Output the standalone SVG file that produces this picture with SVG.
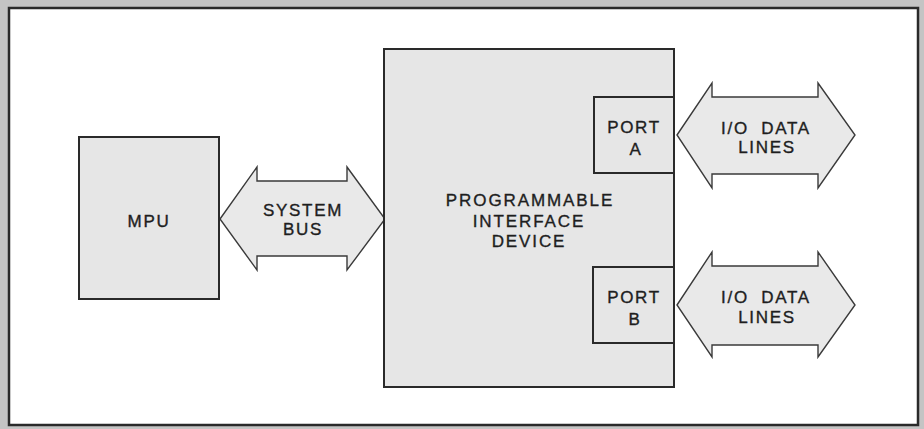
<svg xmlns="http://www.w3.org/2000/svg" width="924" height="429" viewBox="0 0 924 429">
<style>
.box{fill:#e6e6e6;stroke:#2a2a2a;stroke-width:2}
.bus{fill:#e9e9e9;stroke:#3a3a3a;stroke-width:1.4;stroke-linejoin:miter}
.t{font-family:"Liberation Sans",Arial,sans-serif;font-size:17px;fill:#1e1e1e;stroke:#1e1e1e;stroke-width:0.35px;text-anchor:middle;letter-spacing:1.7px}
.w{word-spacing:6px}
</style>
<rect x="0" y="0" width="924" height="429" fill="#c4c4c4"/>
<rect x="9" y="8" width="909" height="417" fill="#ffffff" stroke="#2a2a2a" stroke-width="2.5"/>
<g id="connectors">
  <g id="system-bus">
    <polygon class="bus" points="220,219 257,167 257,181 347,181 347,167 385,219 347,270 347,256 257,256 257,270"/>
    <text class="t" x="303" y="216">SYSTEM</text>
    <text class="t" x="303" y="235">BUS</text>
  </g>
  <g id="io-lines-a">
    <polygon class="bus" points="677,135 712,83 712,97 818,97 818,83 855,135 818,188 818,174 712,174 712,188"/>
    <text class="t w" x="766" y="134">I/O DATA</text>
    <text class="t" x="767" y="153">LINES</text>
  </g>
  <g id="io-lines-b">
    <polygon class="bus" points="677,305 712,252 712,266 818,266 818,252 855,305 818,357 818,345 712,345 712,357"/>
    <text class="t w" x="766" y="303">I/O DATA</text>
    <text class="t" x="767" y="323">LINES</text>
  </g>
</g>
<g id="mpu">
  <rect class="box" x="79" y="137" width="140" height="162"/>
  <text class="t" x="149" y="227">MPU</text>
</g>
<g id="pid">
  <rect class="box" x="384" y="49" width="290" height="338"/>
  <text class="t" x="530" y="206" style="letter-spacing:1.9px">PROGRAMMABLE</text>
  <text class="t" x="529" y="227" style="letter-spacing:1.9px">INTERFACE</text>
  <text class="t" x="529" y="247" style="letter-spacing:1.9px">DEVICE</text>
</g>
<g id="port-a">
  <rect class="box" x="594" y="97" width="80" height="76"/>
  <text class="t" x="634" y="133">PORT</text>
  <text class="t" x="636" y="155">A</text>
</g>
<g id="port-b">
  <rect class="box" x="593" y="267" width="81" height="76"/>
  <text class="t" x="634" y="303">PORT</text>
  <text class="t" x="635" y="325">B</text>
</g>
</svg>
